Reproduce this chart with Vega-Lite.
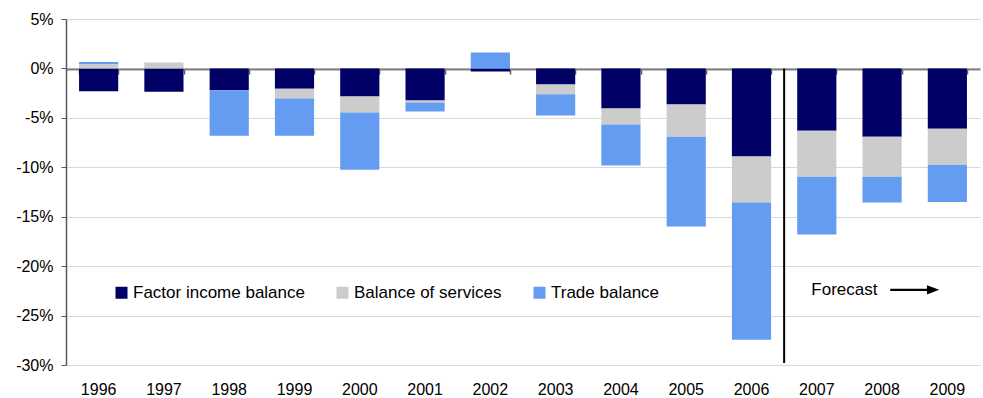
{
  "$schema": "https://vega.github.io/schema/vega-lite/v6.json",
  "width": 914,
  "height": 346,
  "autosize": {"type": "none"},
  "padding": {"left": 66, "top": 19, "right": 3, "bottom": 33},
  "background": "white",
  "config": {
    "font": "Liberation Sans",
    "view": {"stroke": null},
    "axis": {"labelFont": "Liberation Sans", "labelColor": "#000000", "titleFont": "Liberation Sans"},
    "legend": {"labelFont": "Liberation Sans"}
  },
  "datasets": {
    "bars": [
      {"year": "1996", "series": "Factor income balance", "value": -2.3},
      {"year": "1996", "series": "Balance of services", "value": 0.45},
      {"year": "1996", "series": "Trade balance", "value": 0.2},
      {"year": "1997", "series": "Factor income balance", "value": -2.35},
      {"year": "1997", "series": "Balance of services", "value": 0.6},
      {"year": "1997", "series": "Trade balance", "value": 0},
      {"year": "1998", "series": "Factor income balance", "value": -2.2},
      {"year": "1998", "series": "Balance of services", "value": 0},
      {"year": "1998", "series": "Trade balance", "value": -4.6},
      {"year": "1999", "series": "Factor income balance", "value": -2.05},
      {"year": "1999", "series": "Balance of services", "value": -1.0},
      {"year": "1999", "series": "Trade balance", "value": -3.75},
      {"year": "2000", "series": "Factor income balance", "value": -2.85},
      {"year": "2000", "series": "Balance of services", "value": -1.62},
      {"year": "2000", "series": "Trade balance", "value": -5.78},
      {"year": "2001", "series": "Factor income balance", "value": -3.25},
      {"year": "2001", "series": "Balance of services", "value": -0.2},
      {"year": "2001", "series": "Trade balance", "value": -0.9},
      {"year": "2002", "series": "Factor income balance", "value": -0.3},
      {"year": "2002", "series": "Balance of services", "value": 0},
      {"year": "2002", "series": "Trade balance", "value": 1.62},
      {"year": "2003", "series": "Factor income balance", "value": -1.62},
      {"year": "2003", "series": "Balance of services", "value": -1.0},
      {"year": "2003", "series": "Trade balance", "value": -2.13},
      {"year": "2004", "series": "Factor income balance", "value": -4.05},
      {"year": "2004", "series": "Balance of services", "value": -1.62},
      {"year": "2004", "series": "Trade balance", "value": -4.15},
      {"year": "2005", "series": "Factor income balance", "value": -3.65},
      {"year": "2005", "series": "Balance of services", "value": -3.25},
      {"year": "2005", "series": "Trade balance", "value": -9.1},
      {"year": "2006", "series": "Factor income balance", "value": -8.9},
      {"year": "2006", "series": "Balance of services", "value": -4.65},
      {"year": "2006", "series": "Trade balance", "value": -13.9},
      {"year": "2007", "series": "Factor income balance", "value": -6.3},
      {"year": "2007", "series": "Balance of services", "value": -4.65},
      {"year": "2007", "series": "Trade balance", "value": -5.85},
      {"year": "2008", "series": "Factor income balance", "value": -6.9},
      {"year": "2008", "series": "Balance of services", "value": -4.05},
      {"year": "2008", "series": "Trade balance", "value": -2.6},
      {"year": "2009", "series": "Factor income balance", "value": -6.1},
      {"year": "2009", "series": "Balance of services", "value": -3.65},
      {"year": "2009", "series": "Trade balance", "value": -3.75}
    ],
    "annot": [
      {"label": "Forecast", "year": "2007", "y": -22.4, "ytop": 0, "ybottom": -29.8}
    ]
  },
  "layer": [
    {
      "data": {"name": "bars"},
      "transform": [
        {"calculate": "indexof(['Factor income balance', 'Balance of services', 'Trade balance'], datum.series)", "as": "stackOrder"}
      ],
      "mark": {"type": "bar"},
      "encoding": {
        "x": {
          "field": "year", "type": "nominal", "sort": null,
          "scale": {"paddingInner": 0.4, "paddingOuter": 0.2},
          "axis": {"title": null, "orient": "bottom", "labelAngle": 0, "labelFontSize": 16, "domain": false, "ticks": false, "tickSize": 0, "labelPadding": 16, "grid": false}
        },
        "y": {
          "field": "value", "type": "quantitative", "stack": "zero",
          "scale": {"domain": [-30, 5], "nice": false, "zero": false},
          "axis": {
            "title": null, "values": [5, 0, -5, -10, -15, -20, -25, -30],
            "labelExpr": "datum.value + '%'", "labelFontSize": 16, "labelPadding": 8,
            "tickSize": 5, "tickColor": "#595959", "domainColor": "#595959", "domainWidth": 1.5,
            "grid": true, "gridColor": "#d9d9d9", "gridWidth": 1
          }
        },
        "order": {"field": "stackOrder", "type": "quantitative", "sort": "ascending"},
        "color": {
          "field": "series", "type": "nominal",
          "sort": ["Factor income balance", "Balance of services", "Trade balance"],
          "scale": {"domain": ["Factor income balance", "Balance of services", "Trade balance"], "range": ["#000066", "#cccccc", "#639cf1"]},
          "legend": {
            "title": null, "orient": "none", "direction": "horizontal",
            "legendX": 47, "legendY": 265,
            "symbolType": "square", "symbolSize": 144, "symbolStrokeWidth": 0,
            "labelFontSize": 17, "labelOffset": 3, "columnPadding": 29, "labelColor": "#000000", "labelLimit": 400
          }
        }
      }
    },
    {
      "data": {"name": "annot"},
      "mark": {"type": "rule", "color": "#000000", "strokeWidth": 2},
      "encoding": {
        "x": {
          "field": "year", "type": "nominal", "bandPosition": -0.3333,
          "axis": {"title": null, "orient": "bottom", "offset": -296, "labels": false, "domain": true, "domainColor": "#808080", "domainWidth": 2, "ticks": true, "tickBand": "extent", "tickSize": 5, "tickColor": "#595959", "tickWidth": 1.5, "grid": false}
        },
        "y": {"field": "ytop", "type": "quantitative"},
        "y2": {"field": "ybottom"}
      }
    },
    {
      "data": {"name": "annot"},
      "mark": {"type": "text", "align": "left", "baseline": "middle", "fontSize": 17, "color": "#000000"},
      "encoding": {
        "x": {"field": "year", "type": "nominal", "bandPosition": 0.36, "axis": null},
        "y": {"field": "y", "type": "quantitative"},
        "text": {"field": "label"}
      }
    },
    {
      "data": {"name": "annot"},
      "mark": {"type": "point", "filled": true, "color": "#000000", "opacity": 1, "strokeWidth": 0, "size": 2401,
        "shape": "M-1,-0.05L0.5,-0.05L0.5,-0.19L1,0L0.5,0.19L0.5,0.05L-1,0.05Z"},
      "encoding": {
        "x": {"field": "year", "type": "nominal", "bandPosition": 3.0, "axis": null},
        "y": {"field": "y", "type": "quantitative"}
      }
    }
  ],
  "resolve": {"axis": {"x": "independent"}}
}
